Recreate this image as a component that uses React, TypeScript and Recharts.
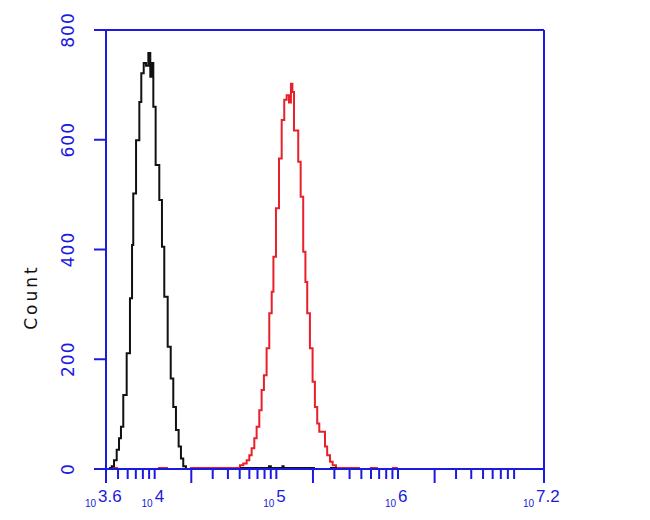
import { LineChart, Line, XAxis, YAxis, ReferenceLine } from 'recharts';

// fluorescence axis in log10 decades, counts per channel
const blackLog = [
  3.625, 3.647, 3.666, 3.688, 3.707, 3.723, 3.742, 3.770, 3.797, 3.814, 3.824,
  3.847, 3.874, 3.890, 3.910, 3.929, 3.948, 3.964, 3.976, 3.989, 4.008, 4.038,
  4.060, 4.079, 4.107, 4.132, 4.153, 4.175, 4.197, 4.216, 4.235, 4.257,
  4.5, 4.701, 4.940, 4.955, 5.050, 5.060, 5.317, 5.38, 5.441, 5.498,
];
const blackCount: (number | null)[] = [
  2, 5, 16, 35, 56, 77, 135, 211, 311, 408, 502,
  599, 669, 721, 740, 735, 758, 715, 740, 660, 554, 490,
  405, 314, 223, 165, 113, 71, 41, 19, 5, 0,
  null, 2, 5, 2, 5, 2, 2, null, 2, 2,
];

const redLog = [
  3.633, 3.699, 3.8, 4.027, 4.109, 4.2, 4.290,
  4.701, 4.728, 4.756, 4.778, 4.797, 4.819, 4.838, 4.860, 4.879, 4.898, 4.920,
  4.942, 4.962, 4.976, 4.997, 5.022, 5.044, 5.065, 5.085, 5.104, 5.120, 5.132,
  5.145, 5.180, 5.200, 5.221, 5.239, 5.254, 5.276, 5.298, 5.317, 5.336, 5.353,
  5.400, 5.418, 5.441, 5.463, 5.490, 5.687, 5.72, 5.769, 5.835, 5.9, 5.950, 5.999,
];
const redCount: (number | null)[] = [
  2, 2, null, 2, 2, null, 2,
  7, 10, 16, 25, 38, 56, 77, 107, 144, 171, 220,
  284, 323, 387, 475, 566, 636, 673, 681, 668, 702, 687,
  617, 560, 496, 396, 341, 284, 220, 159, 113, 83, 68,
  41, 25, 13, 7, 2, 2, null, 2, 2, null, 2, 2,
];

const yTicks = [0, 200, 400, 600, 800];
const xLabels: Record<string, string> = { '3.6': '3.6', '4': '4', '5': '5', '6': '6', '7.2': '7.2' };
const decades = [3, 4, 5, 6];
const multipliers = [1, 2, 3, 4, 5, 6, 7, 8, 9];

const blue = '#1a1ae0';

const xTicks: number[] = [3.6];
decades.forEach((d) =>
  multipliers.forEach((m) => {
    const v = d + Math.log10(m);
    if (v > 3.62 && v < 7.19) xTicks.push(v);
  })
);
xTicks.push(7.2);

const tall = [3.6, 4 + Math.log10(2), 5 + Math.log10(2), 6 + Math.log10(2), 7.2];

const blackData = blackLog.map((x, i) => ({ x, count: blackCount[i] }));
const redData = redLog.map((x, i) => ({ x, count: redCount[i] }));

const XTick = ({ x, y, payload }: any) => {
  const v = payload.value;
  const isTall = tall.some((t) => Math.abs(t - v) < 1e-6);
  const key = Object.keys(xLabels).find((k) => Math.abs(Number(k) - v) < 1e-6);
  const label = key ? xLabels[key] : null;
  const start = label && label.length > 1 ? x - 8 : x;
  return (
    <g>
      <line x1={x} x2={x} y1={y} y2={y + (isTall ? 14 : 10)} stroke={blue} strokeWidth={2} />
      {label && (
        <g fill={blue} fontFamily="Liberation Sans, Arial, sans-serif">
          <text x={start - 2} y={y + 38} fontSize={10} textAnchor="end">10</text>
          <text x={start} y={y + 33} fontSize={17} textAnchor="start">{label}</text>
        </g>
      )}
    </g>
  );
};

const YTick = ({ x, y, payload }: any) => (
  <text
    x={x - 20}
    y={y}
    transform={`rotate(-90, ${x - 20}, ${y})`}
    textAnchor="middle"
    fill={blue}
    fontSize={17}
    letterSpacing={1}
    fontFamily="DejaVu Sans, sans-serif"
  >
    {payload.value}
  </text>
);

export default function App() {
  return (
    <div style={{ width: 642, height: 512, background: '#fff' }}>
      <LineChart width={642} height={512} margin={{ top: 22, right: 106, left: 0, bottom: 11 }}>
        <XAxis
          dataKey="x"
          type="number"
          domain={[3.6, 7.2]}
          ticks={xTicks}
          interval={0}
          allowDataOverflow
          tickLine={false}
          tickSize={0}
          tickMargin={0}
          height={40}
          axisLine={{ stroke: blue, strokeWidth: 2 }}
          tick={<XTick />}
        />
        <YAxis
          type="number"
          domain={[0, 800]}
          ticks={yTicks}
          width={98}
          tickSize={12}
          tickMargin={0}
          tickLine={{ stroke: blue, strokeWidth: 2 }}
          axisLine={{ stroke: blue, strokeWidth: 2 }}
          tick={<YTick />}
        />
        <ReferenceLine y={800} stroke={blue} strokeWidth={2} />
        <ReferenceLine x={7.2} stroke={blue} strokeWidth={2} />
        <Line
          data={redData}
          dataKey="count"
          type="stepAfter"
          stroke="#e8202a"
          strokeWidth={2}
          dot={false}
          activeDot={false}
          isAnimationActive={false}
        />
        <Line
          data={blackData}
          dataKey="count"
          type="stepAfter"
          stroke="#111"
          strokeWidth={2}
          dot={false}
          activeDot={false}
          isAnimationActive={false}
        />
        <text
          x={29}
          y={289}
          transform="rotate(-90, 29, 289)"
          textAnchor="middle"
          fontSize={17}
          letterSpacing={3}
          fontFamily="DejaVu Sans, sans-serif"
          fill="#111"
        >
          Count
        </text>
      </LineChart>
    </div>
  );
}
